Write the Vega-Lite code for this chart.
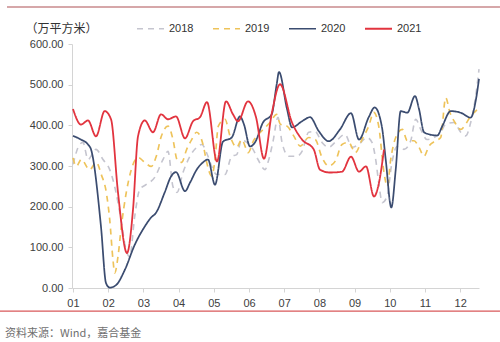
{
  "$schema": "https://vega.github.io/schema/vega-lite/v6.json",
  "width": 407,
  "height": 244,
  "autosize": "none",
  "padding": {"left": 72, "top": 44, "right": 21, "bottom": 54},
  "background": "white",
  "config": {
    "view": {"stroke": null},
    "font": "Noto Sans CJK SC",
    "axis": {"labelFont": "Liberation Sans", "labelFontSize": 11, "labelColor": "#404040", "domainColor": "#d4d4d4", "tickColor": "#d4d4d4", "tickSize": 4, "labelPadding": 5, "grid": false, "labelOverlap": false}
  },
  "title": {"text": "资料来源：Wind，嘉合基金", "orient": "bottom", "anchor": "start", "frame": "group", "dx": -67, "offset": 16, "fontSize": 11, "fontWeight": "normal", "color": "#707070", "font": "Noto Sans CJK SC"},
  "layer": [
    {
      "data": {"values": [
        {"year":"2018","t":1.000,"v":304},{"year":"2018","t":1.190,"v":353},{"year":"2018","t":1.284,"v":358},{"year":"2018","t":1.426,"v":316},{"year":"2018","t":1.653,"v":341},{"year":"2018","t":1.852,"v":316},{"year":"2018","t":2.043,"v":291},{"year":"2018","t":2.222,"v":235},{"year":"2018","t":2.364,"v":168},{"year":"2018","t":2.506,"v":94},{"year":"2018","t":2.611,"v":77},{"year":"2018","t":2.753,"v":176},{"year":"2018","t":2.895,"v":242},{"year":"2018","t":3.074,"v":254},{"year":"2018","t":3.321,"v":272},{"year":"2018","t":3.557,"v":316},{"year":"2018","t":3.699,"v":336},{"year":"2018","t":3.841,"v":249},{"year":"2018","t":3.955,"v":235},{"year":"2018","t":4.125,"v":284},{"year":"2018","t":4.324,"v":324},{"year":"2018","t":4.514,"v":346},{"year":"2018","t":4.656,"v":353},{"year":"2018","t":4.835,"v":324},{"year":"2018","t":4.940,"v":299},{"year":"2018","t":5.082,"v":279},{"year":"2018","t":5.318,"v":279},{"year":"2018","t":5.509,"v":324},{"year":"2018","t":5.651,"v":328},{"year":"2018","t":5.793,"v":365},{"year":"2018","t":5.886,"v":361},{"year":"2018","t":6.114,"v":341},{"year":"2018","t":6.256,"v":316},{"year":"2018","t":6.455,"v":291},{"year":"2018","t":6.540,"v":309},{"year":"2018","t":6.682,"v":360},{"year":"2018","t":6.824,"v":420},{"year":"2018","t":6.938,"v":358},{"year":"2018","t":7.128,"v":324},{"year":"2018","t":7.364,"v":324},{"year":"2018","t":7.506,"v":336},{"year":"2018","t":7.696,"v":383},{"year":"2018","t":7.875,"v":385},{"year":"2018","t":8.074,"v":358},{"year":"2018","t":8.264,"v":346},{"year":"2018","t":8.443,"v":358},{"year":"2018","t":8.727,"v":378},{"year":"2018","t":8.926,"v":346},{"year":"2018","t":9.116,"v":353},{"year":"2018","t":9.352,"v":370},{"year":"2018","t":9.494,"v":358},{"year":"2018","t":9.599,"v":316},{"year":"2018","t":9.685,"v":259},{"year":"2018","t":9.787,"v":210},{"year":"2018","t":9.920,"v":225},{"year":"2018","t":10.062,"v":309},{"year":"2018","t":10.205,"v":348},{"year":"2018","t":10.403,"v":341},{"year":"2018","t":10.594,"v":362},{"year":"2018","t":10.736,"v":415},{"year":"2018","t":10.878,"v":390},{"year":"2018","t":11.057,"v":365},{"year":"2018","t":11.256,"v":370},{"year":"2018","t":11.446,"v":383},{"year":"2018","t":11.588,"v":403},{"year":"2018","t":11.824,"v":407},{"year":"2018","t":12.014,"v":383},{"year":"2018","t":12.156,"v":374},{"year":"2018","t":12.298,"v":407},{"year":"2018","t":12.440,"v":472},{"year":"2018","t":12.534,"v":538},
        {"year":"2019","t":1.000,"v":320},{"year":"2019","t":1.094,"v":299},{"year":"2019","t":1.236,"v":316},{"year":"2019","t":1.474,"v":291},{"year":"2019","t":1.662,"v":309},{"year":"2019","t":1.804,"v":279},{"year":"2019","t":1.946,"v":235},{"year":"2019","t":2.043,"v":168},{"year":"2019","t":2.136,"v":69},{"year":"2019","t":2.185,"v":37},{"year":"2019","t":2.278,"v":77},{"year":"2019","t":2.372,"v":151},{"year":"2019","t":2.514,"v":235},{"year":"2019","t":2.656,"v":291},{"year":"2019","t":2.847,"v":321},{"year":"2019","t":3.037,"v":309},{"year":"2019","t":3.224,"v":299},{"year":"2019","t":3.366,"v":324},{"year":"2019","t":3.509,"v":373},{"year":"2019","t":3.699,"v":398},{"year":"2019","t":3.841,"v":365},{"year":"2019","t":3.955,"v":316},{"year":"2019","t":4.088,"v":309},{"year":"2019","t":4.230,"v":341},{"year":"2019","t":4.372,"v":365},{"year":"2019","t":4.514,"v":383},{"year":"2019","t":4.702,"v":350},{"year":"2019","t":4.798,"v":309},{"year":"2019","t":4.940,"v":275},{"year":"2019","t":5.034,"v":316},{"year":"2019","t":5.128,"v":398},{"year":"2019","t":5.318,"v":415},{"year":"2019","t":5.460,"v":374},{"year":"2019","t":5.651,"v":346},{"year":"2019","t":5.793,"v":365},{"year":"2019","t":5.980,"v":333},{"year":"2019","t":6.122,"v":361},{"year":"2019","t":6.264,"v":378},{"year":"2019","t":6.406,"v":390},{"year":"2019","t":6.597,"v":407},{"year":"2019","t":6.787,"v":427},{"year":"2019","t":6.889,"v":403},{"year":"2019","t":7.080,"v":398},{"year":"2019","t":7.270,"v":374},{"year":"2019","t":7.457,"v":349},{"year":"2019","t":7.696,"v":370},{"year":"2019","t":7.884,"v":365},{"year":"2019","t":8.074,"v":321},{"year":"2019","t":8.264,"v":300},{"year":"2019","t":8.452,"v":312},{"year":"2019","t":8.642,"v":353},{"year":"2019","t":8.832,"v":358},{"year":"2019","t":9.020,"v":333},{"year":"2019","t":9.210,"v":365},{"year":"2019","t":9.401,"v":398},{"year":"2019","t":9.543,"v":432},{"year":"2019","t":9.685,"v":398},{"year":"2019","t":9.835,"v":284},{"year":"2019","t":9.929,"v":250},{"year":"2019","t":10.026,"v":316},{"year":"2019","t":10.168,"v":370},{"year":"2019","t":10.355,"v":390},{"year":"2019","t":10.497,"v":362},{"year":"2019","t":10.688,"v":362},{"year":"2019","t":10.830,"v":346},{"year":"2019","t":10.972,"v":324},{"year":"2019","t":11.114,"v":349},{"year":"2019","t":11.304,"v":362},{"year":"2019","t":11.446,"v":370},{"year":"2019","t":11.588,"v":468},{"year":"2019","t":11.710,"v":431},{"year":"2019","t":11.824,"v":411},{"year":"2019","t":12.014,"v":390},{"year":"2019","t":12.156,"v":403},{"year":"2019","t":12.298,"v":423},{"year":"2019","t":12.440,"v":435},{"year":"2019","t":12.534,"v":444},
        {"year":"2020","t":1.000,"v":374},{"year":"2020","t":1.227,"v":365},{"year":"2020","t":1.426,"v":353},{"year":"2020","t":1.511,"v":341},{"year":"2020","t":1.795,"v":151},{"year":"2020","t":1.938,"v":12},{"year":"2020","t":2.043,"v":1},{"year":"2020","t":2.222,"v":7},{"year":"2020","t":2.469,"v":44},{"year":"2020","t":2.753,"v":106},{"year":"2020","t":3.037,"v":151},{"year":"2020","t":3.216,"v":173},{"year":"2020","t":3.358,"v":185},{"year":"2020","t":3.605,"v":235},{"year":"2020","t":3.784,"v":274},{"year":"2020","t":3.926,"v":285},{"year":"2020","t":4.182,"v":238},{"year":"2020","t":4.324,"v":259},{"year":"2020","t":4.514,"v":291},{"year":"2020","t":4.693,"v":309},{"year":"2020","t":4.835,"v":316},{"year":"2020","t":5.034,"v":254},{"year":"2020","t":5.261,"v":360},{"year":"2020","t":5.509,"v":370},{"year":"2020","t":5.744,"v":422},{"year":"2020","t":5.858,"v":402},{"year":"2020","t":6.028,"v":348},{"year":"2020","t":6.170,"v":358},{"year":"2020","t":6.398,"v":407},{"year":"2020","t":6.645,"v":427},{"year":"2020","t":6.787,"v":501},{"year":"2020","t":6.852,"v":531},{"year":"2020","t":7.080,"v":440},{"year":"2020","t":7.222,"v":395},{"year":"2020","t":7.506,"v":410},{"year":"2020","t":7.733,"v":420},{"year":"2020","t":7.980,"v":386},{"year":"2020","t":8.264,"v":361},{"year":"2020","t":8.585,"v":390},{"year":"2020","t":8.898,"v":430},{"year":"2020","t":9.125,"v":365},{"year":"2020","t":9.401,"v":420},{"year":"2020","t":9.571,"v":444},{"year":"2020","t":9.778,"v":395},{"year":"2020","t":9.884,"v":316},{"year":"2020","t":10.043,"v":198},{"year":"2020","t":10.168,"v":291},{"year":"2020","t":10.310,"v":435},{"year":"2020","t":10.497,"v":431},{"year":"2020","t":10.716,"v":472},{"year":"2020","t":10.830,"v":440},{"year":"2020","t":10.972,"v":383},{"year":"2020","t":11.114,"v":378},{"year":"2020","t":11.349,"v":375},{"year":"2020","t":11.491,"v":398},{"year":"2020","t":11.730,"v":435},{"year":"2020","t":12.014,"v":431},{"year":"2020","t":12.298,"v":419},{"year":"2020","t":12.440,"v":460},{"year":"2020","t":12.534,"v":514},
        {"year":"2021","t":1.000,"v":440},{"year":"2021","t":1.227,"v":402},{"year":"2021","t":1.426,"v":412},{"year":"2021","t":1.653,"v":373},{"year":"2021","t":1.901,"v":435},{"year":"2021","t":2.080,"v":415},{"year":"2021","t":2.278,"v":235},{"year":"2021","t":2.534,"v":86},{"year":"2021","t":2.705,"v":193},{"year":"2021","t":2.847,"v":373},{"year":"2021","t":3.037,"v":412},{"year":"2021","t":3.273,"v":383},{"year":"2021","t":3.500,"v":427},{"year":"2021","t":3.699,"v":415},{"year":"2021","t":3.926,"v":422},{"year":"2021","t":4.182,"v":368},{"year":"2021","t":4.409,"v":410},{"year":"2021","t":4.608,"v":420},{"year":"2021","t":4.807,"v":457},{"year":"2021","t":5.091,"v":311},{"year":"2021","t":5.347,"v":459},{"year":"2021","t":5.545,"v":427},{"year":"2021","t":5.688,"v":410},{"year":"2021","t":5.972,"v":459},{"year":"2021","t":6.199,"v":420},{"year":"2021","t":6.426,"v":318},{"year":"2021","t":6.653,"v":432},{"year":"2021","t":6.881,"v":501},{"year":"2021","t":7.222,"v":407},{"year":"2021","t":7.506,"v":365},{"year":"2021","t":7.838,"v":341},{"year":"2021","t":8.017,"v":291},{"year":"2021","t":8.301,"v":284},{"year":"2021","t":8.642,"v":286},{"year":"2021","t":8.898,"v":323},{"year":"2021","t":9.125,"v":286},{"year":"2021","t":9.324,"v":299},{"year":"2021","t":9.551,"v":225},{"year":"2021","t":9.693,"v":259},{"year":"2021","t":9.835,"v":341}
      ]},
      "mark": {"type": "line", "interpolate": "monotone"},
      "encoding": {
        "x": {"field": "t", "type": "quantitative", "scale": {"domain": [0.9716, 12.534], "nice": false, "zero": false},
              "axis": {"values": [1,2,3,4,5,6,7,8,9,10,11,12], "labelExpr": "datum.value < 10 ? '0' + datum.value : '' + datum.value", "title": null, "labelBound": false, "labelFlush": false, "labelOverlap": false, "tickCount": 12}},
        "y": {"field": "v", "type": "quantitative", "scale": {"domain": [0, 600], "nice": false},
              "axis": {"values": [0,100,200,300,400,500,600], "format": ".2f", "title": "（万平方米）", "titleAngle": 0, "titleAlign": "left", "titleBaseline": "middle", "titleX": -47, "titleY": -16, "titleFontSize": 12, "titleFontWeight": "normal", "titleColor": "#333333", "titleFont": "Noto Sans CJK SC"}},
        "color": {"field": "year", "type": "nominal", "scale": {"domain": ["2018","2019","2020","2021"], "range": ["#C5C5CF","#EEC35A","#3B4C70","#E2343F"]},
                  "legend": {"title": null, "orient": "none", "legendX": 64, "legendY": -30, "direction": "horizontal", "symbolType": "stroke", "symbolSize": 729, "labelFontSize": 11, "labelFont": "Liberation Sans", "labelColor": "#333333", "labelOffset": 4, "columnPadding": 15}},
        "strokeDash": {"field": "year", "type": "nominal", "scale": {"domain": ["2018","2019","2020","2021"], "range": [[6,5],[6,5],[1,0],[1,0]]}},
        "strokeWidth": {"field": "year", "type": "nominal", "scale": {"domain": ["2018","2019","2020","2021"], "range": [1.6,1.8,1.8,3.5]}}
      }
    },
    {
      "data": {"values": [{}]},
      "mark": {"type": "rule", "color": "#C98A8C", "strokeWidth": 1.5, "clip": false},
      "encoding": {"x": {"datum": -0.875}, "x2": {"datum": 13.13}, "y": {"datum": 691}}
    },
    {
      "data": {"values": [{}]},
      "mark": {"type": "rule", "color": "#D9585A", "strokeWidth": 1.2, "clip": false},
      "encoding": {"x": {"datum": -1.1}, "x2": {"datum": 13.13}, "y": {"datum": -57}}
    }
  ]
}
